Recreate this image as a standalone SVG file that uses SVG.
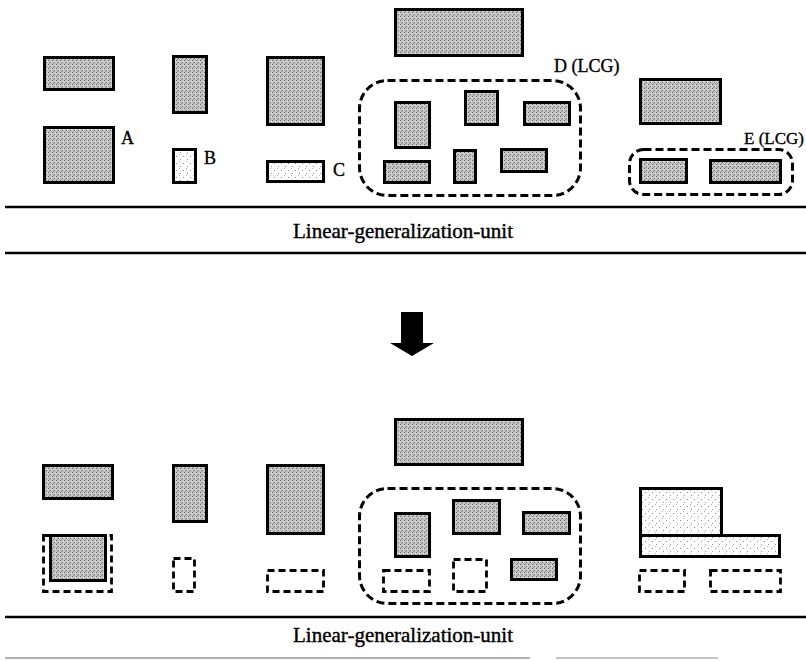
<svg xmlns="http://www.w3.org/2000/svg" width="806" height="661" viewBox="0 0 806 661">
  <style>
    .bldg { fill: url(#screen); stroke: #000; stroke-width: 3; }
    .light { fill: url(#stipple); stroke: #000; stroke-width: 3; }
    .gone { fill: none; stroke: #000; stroke-width: 2.8; stroke-dasharray: 7 4; }
    .group { fill: none; stroke: #000; stroke-width: 3; stroke-dasharray: 8 4; }
    .rule { stroke: #000; stroke-width: 2.6; }
    .lbl { font-family: "Liberation Serif", "Times New Roman", serif; font-size: 18px; fill: #000; stroke: #000; stroke-width: 0.35; }
    .unit { font-family: "Liberation Serif", "Times New Roman", serif; font-size: 21px; fill: #000; stroke: #000; stroke-width: 0.4; text-anchor: middle; }
  </style>
  <defs>
    <!-- halftone screen used for building footprints -->
    <pattern id="screen" width="4" height="4" patternUnits="userSpaceOnUse">
      <rect width="4" height="4" fill="#c4c4c4"/>
      <rect x="0" y="0" width="1" height="1" fill="#6a6a6a"/>
      <rect x="2" y="2" width="1" height="1" fill="#777"/>
      <rect x="3" y="1" width="1" height="1" fill="#e8e8e8"/>
      <rect x="1" y="3" width="1" height="1" fill="#909090"/>
    </pattern>
    <!-- sparse stipple for small / merged footprints -->
    <pattern id="stipple" width="7" height="7" patternUnits="userSpaceOnUse">
      <rect width="7" height="7" fill="#fff"/>
      <rect x="1" y="2" width="1" height="1" fill="#8a8a8a"/>
      <rect x="5" y="5" width="1" height="1" fill="#9a9a9a"/>
      <rect x="4" y="0" width="1" height="1" fill="#b5b5b5"/>
    </pattern>
  </defs>

  <!-- ===== before generalization ===== -->
  <g id="top-b1"><rect class="bldg" x="44.5" y="57.5" width="69" height="32"/></g>
  <g id="top-A"><rect class="bldg" x="44.5" y="127.5" width="69" height="55"/><text class="lbl" x="121" y="144">A</text></g>
  <g id="top-b2"><rect class="bldg" x="173.5" y="56.5" width="33" height="56"/></g>
  <g id="top-B"><rect class="light" x="173.5" y="149.5" width="22" height="33"/><text class="lbl" x="204" y="164">B</text></g>
  <g id="top-b3"><rect class="bldg" x="267.5" y="57.5" width="56" height="67"/></g>
  <g id="top-C"><rect class="light" x="267.5" y="161.5" width="56" height="20"/><text class="lbl" x="333" y="176">C</text></g>
  <g id="top-b4"><rect class="bldg" x="395.5" y="9.5" width="127" height="46"/></g>

  <g id="top-D">
    <rect class="group" x="359.5" y="80.5" width="221" height="115" rx="28"/>
    <text class="lbl" x="554" y="72">D (LCG)</text>
    <rect class="bldg" x="395.5" y="102.5" width="34" height="45"/>
    <rect class="bldg" x="465.5" y="91.5" width="32" height="33"/>
    <rect class="bldg" x="524.5" y="102.5" width="45" height="22"/>
    <rect class="bldg" x="384.5" y="161.5" width="45" height="21"/>
    <rect class="bldg" x="454.5" y="150.5" width="21" height="32"/>
    <rect class="bldg" x="501.5" y="149.5" width="45" height="22"/>
  </g>

  <g id="top-b5"><rect class="bldg" x="640.5" y="79.5" width="80" height="44"/></g>
  <g id="top-E">
    <rect class="group" x="629.5" y="149.5" width="163" height="45" rx="14"/>
    <text class="lbl" x="744" y="144" style="font-size:17px">E (LCG)</text>
    <rect class="bldg" x="640.5" y="159.5" width="46" height="23"/>
    <rect class="bldg" x="710.5" y="160.5" width="70" height="22"/>
  </g>

  <!-- unit band, first state -->
  <line class="rule" x1="5" y1="207" x2="806" y2="207"/>
  <text class="unit" x="403" y="238">Linear-generalization-unit</text>
  <line class="rule" x1="5" y1="253" x2="806" y2="253"/>

  <!-- ===== after generalization ===== -->
  <g id="bot-b1"><rect class="bldg" x="43.5" y="465.5" width="69" height="33"/></g>
  <g id="bot-A">
    <rect class="gone" x="43.5" y="535.5" width="68" height="56"/>
    <rect class="bldg" x="50.5" y="535.5" width="55" height="45"/>
  </g>
  <g id="bot-b2"><rect class="bldg" x="173.5" y="465.5" width="33" height="56"/></g>
  <g id="bot-B"><rect class="gone" x="173.5" y="558.5" width="21" height="33"/></g>
  <g id="bot-b3"><rect class="bldg" x="267.5" y="465.5" width="56" height="68"/></g>
  <g id="bot-C"><rect class="gone" x="267.5" y="570.5" width="56" height="21"/></g>
  <g id="bot-b4"><rect class="bldg" x="395.5" y="419.5" width="127" height="45"/></g>

  <g id="bot-D">
    <rect class="group" x="359.5" y="488.5" width="221" height="115" rx="28"/>
    <rect class="bldg" x="395.5" y="513.5" width="34" height="43"/>
    <rect class="bldg" x="453.5" y="500.5" width="46" height="33"/>
    <rect class="bldg" x="523.5" y="512.5" width="46" height="21"/>
    <rect class="gone" x="383.5" y="570.5" width="46" height="21"/>
    <rect class="gone" x="453.5" y="559.5" width="33" height="32"/>
    <rect class="bldg" x="511.5" y="559.5" width="45" height="20"/>
  </g>

  <g id="bot-E">
    <rect class="light" x="640.5" y="488.5" width="81" height="47"/>
    <rect class="light" x="640.5" y="535.5" width="139" height="21"/>
    <rect class="gone" x="639.5" y="570.5" width="45" height="21"/>
    <rect class="gone" x="710.5" y="570.5" width="70" height="21"/>
  </g>

  <!-- unit band, second state -->
  <line class="rule" x1="5" y1="617" x2="806" y2="617"/>
  <text class="unit" x="403" y="642">Linear-generalization-unit</text>
  <line x1="5" y1="658" x2="530" y2="658" stroke="#9a9a9a" stroke-width="1.5"/>
  <line x1="556" y1="658" x2="718" y2="658" stroke="#b0b0b0" stroke-width="1.5"/>

  <!-- transition arrow -->
  <g id="connectors">
    <polygon points="401,312 423,312 423,343 434,343 412,356 390,343 401,343" fill="#000"/>
  </g>
</svg>
